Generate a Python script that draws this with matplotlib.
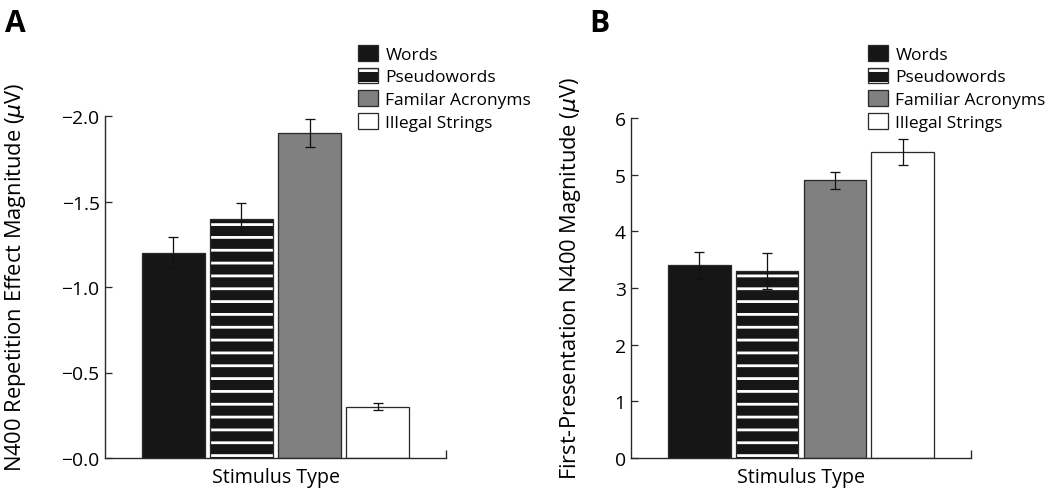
import matplotlib
matplotlib.use("Agg")
import matplotlib.pyplot as plt
from matplotlib.patches import Patch
from matplotlib.legend_handler import HandlerTuple

plt.rcParams['font.family'] = ['Open Sans', 'DejaVu Sans']
plt.rcParams['mathtext.fontset'] = 'dejavusans'
plt.rcParams['hatch.linewidth'] = 2.6

categories = ["Words", "Pseudowords", "Familar Acronyms", "Illegal Strings"]
categories_b = ["Words", "Pseudowords", "Familiar Acronyms", "Illegal Strings"]

# Panel A: repetition effect (negative microvolts)
rep_values = [-1.20, -1.40, -1.90, -0.30]
rep_errors = [0.09, 0.09, 0.08, 0.02]
rep_ticks = [-2.0, -1.5, -1.0, -0.5, 0.0]
rep_ticklabels = ["\u22122.0", "\u22121.5", "\u22121.0", "\u22120.5", "\u22120.0"]

# Panel B: first-presentation N400 magnitude
first_values = [3.4, 3.3, 4.9, 5.4]
first_errors = [0.24, 0.31, 0.15, 0.23]
first_ticks = [0, 1, 2, 3, 4, 5, 6]

DPI = 77
fig = plt.figure(figsize=(1050 / DPI, 497 / DPI), dpi=DPI)

EDGE = "#2a2a2a"
BLACK = "#161616"
GRAY = "#808080"
faces = [BLACK, BLACK, GRAY, "white"]

W = 0.926
XL, XR = -1.007, 4.007


def draw_panel(ax, values, errors):
    x = list(range(len(values)))
    for i, (xi, v) in enumerate(zip(x, values)):
        if i == 1:
            ax.bar(xi, v, width=W, color=BLACK, edgecolor="white", linewidth=0, hatch="-", zorder=2)
            ax.bar(xi, v, width=W, fill=False, edgecolor=EDGE, linewidth=1.2, zorder=3)
        else:
            ax.bar(xi, v, width=W, color=faces[i], edgecolor=EDGE, linewidth=1.2, zorder=2)
    ax.errorbar(x, values, yerr=errors, fmt="none", ecolor="#111111", elinewidth=1.2,
                capsize=4.8, capthick=1.2, zorder=4)
    ax.set_xlim(XL, XR)
    for s in ("top", "right"):
        ax.spines[s].set_visible(False)
    for s in ("left", "bottom"):
        ax.spines[s].set_linewidth(1.3)
        ax.spines[s].set_color(EDGE)
    ax.set_xticks([XR])
    ax.set_xticklabels([""])
    ax.tick_params(axis="x", direction="in", length=7.5, width=1.3, color=EDGE)
    ax.tick_params(axis="y", direction="in", length=7, width=1.2, color=EDGE,
                   labelsize=18, pad=5)
    ax.set_xlabel("Stimulus Type", fontsize=18.4, labelpad=5)


def pseudo_handle():
    p1 = Patch(facecolor=BLACK, edgecolor="white", linewidth=0, hatch="-")
    p2 = Patch(fill=False, edgecolor=EDGE, linewidth=1.2)
    return (p1, p2)


def legend(fig, anchor, labels):
    handles = [Patch(facecolor=BLACK, edgecolor=EDGE, linewidth=1.2),
               pseudo_handle(),
               Patch(facecolor=GRAY, edgecolor=EDGE, linewidth=1.2),
               Patch(facecolor="white", edgecolor=EDGE, linewidth=1.2)]
    fig.legend(handles, labels, loc="upper left", bbox_to_anchor=anchor,
               bbox_transform=fig.transFigure, frameon=False, fontsize=16.3,
               handlelength=1.15, handleheight=1.0, handletextpad=0.42,
               labelspacing=0.28, borderpad=0, borderaxespad=0,
               handler_map={tuple: HandlerTuple(ndivide=1)})


# Panel A
axA = fig.add_axes([105 / 1050, 1 - 459 / 497, 341 / 1050, (459 - 117) / 497])
draw_panel(axA, rep_values, rep_errors)
axA.set_ylim(0, -2.0)
axA.set_yticks(rep_ticks)
axA.set_yticklabels(rep_ticklabels)
axA.set_ylabel(r"N400 Repetition Effect Magnitude ($\mu$V)", fontsize=20.5)
axA.yaxis.set_label_coords(-0.225, 0.53)

# Panel B
axB = fig.add_axes([631 / 1050, 1 - 459 / 497, 340 / 1050, (459 - 119) / 497])
draw_panel(axB, first_values, first_errors)
axB.set_ylim(0, 6)
axB.set_yticks(first_ticks)
axB.set_ylabel(r"First-Presentation N400 Magnitude ($\mu$V)", fontsize=20.5)
axB.yaxis.set_label_coords(-0.14, 0.53)

legend(fig, (358 / 1050, 1 - 46 / 497), categories)
legend(fig, (868 / 1050, 1 - 46 / 497), categories_b)

fig.text(5 / 1050, 1 - 9 / 497, "A", fontsize=28, fontweight="bold", va="top", ha="left")
fig.text(589 / 1050, 1 - 9 / 497, "B", fontsize=28, fontweight="bold", va="top", ha="left")

fig.savefig("out.png", dpi=DPI)
